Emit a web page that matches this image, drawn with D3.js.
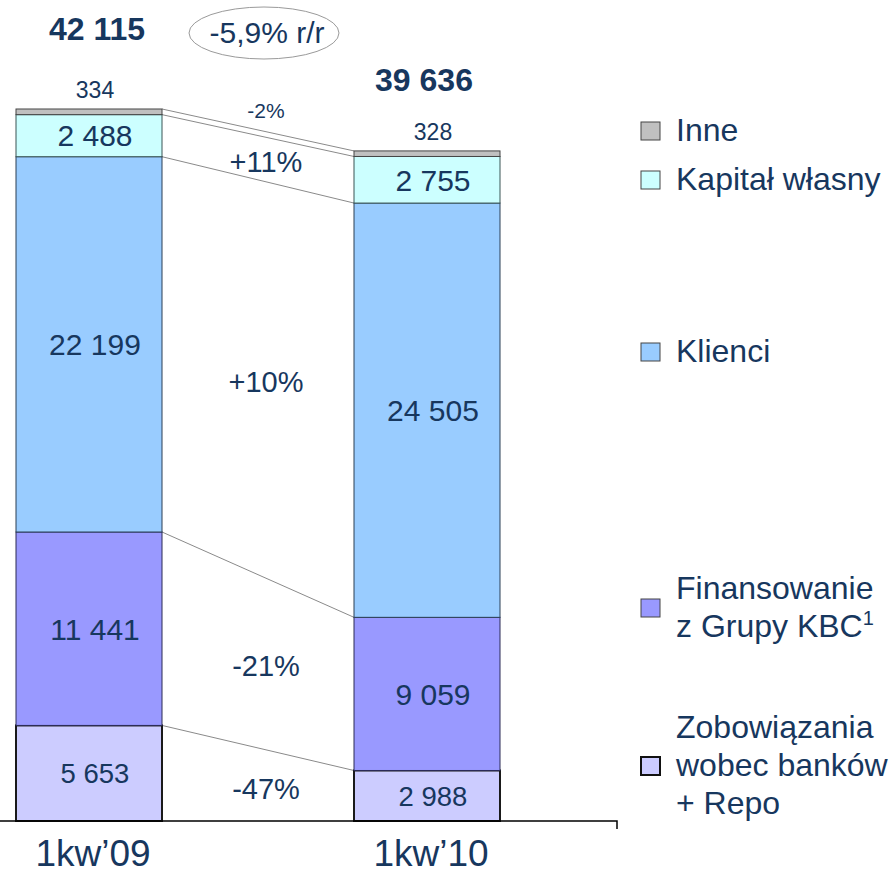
<!DOCTYPE html>
<html>
<head>
<meta charset="utf-8">
<script src="https://cdn.jsdelivr.net/npm/d3@7"></script>
<style>
  body { margin: 0; background: #fff; }
  text { font-family: "Liberation Sans", Arial, sans-serif; fill: #17375e; }
</style>
</head>
<body>
<svg id="chart" width="894" height="873"></svg>
<script>
// data
var periods = ["1kw\u201909", "1kw\u201910"];
var seriesKeys = ["zobow", "finans", "klienci", "kapital", "inne"];
var seriesNames = [["Zobowi\u0105zania", "wobec bank\u00f3w", "+ Repo"], ["Finansowanie", "z Grupy KBC"], ["Klienci"], ["Kapita\u0142 w\u0142asny"], ["Inne"]];
var zobow = [5653, 2988];
var finans = [11441, 9059];
var klienci = [22199, 24505];
var kapital = [2488, 2755];
var inne = [334, 328];
var totals = [42115, 39636];
var changes = ["-47%", "-21%", "+10%", "+11%", "-2%"];
var yoy = "-5,9% r/r";

var fills = ["#ccccff", "#9999ff", "#99ccff", "#ccffff", "#c0c0c0"];
var strokes = ["#1a1a1a", "#2a2a55", "#2a3f55", "#3a5555", "#444"];

var table = periods.map(function(p, i) {
  return { period: p, zobow: zobow[i], finans: finans[i], klienci: klienci[i], kapital: kapital[i], inne: inne[i] };
});

var svg = d3.select("#chart");
var baseY = 821;

var y = d3.scaleLinear().domain([0, totals[0]]).range([baseY, 109]);
var x = d3.scalePoint().domain(periods).range([89, 427]);
var barW = 146;

var stacked = d3.stack().keys(seriesKeys)(table);

// connector lines between bars (top edge of each segment)
stacked.forEach(function(s) {
  svg.append("line")
    .attr("x1", x(periods[0]) + barW / 2).attr("y1", y(s[0][1]))
    .attr("x2", x(periods[1]) - barW / 2).attr("y2", y(s[1][1]))
    .attr("stroke", "#8a8a8a").attr("stroke-width", 1);
});

// bars
var layer = svg.selectAll(".layer")
  .data(stacked)
  .enter().append("g")
  .attr("class", "layer");

layer.selectAll("rect")
  .data(function(d) { return d.map(function(v) { return { v: v, i: d.index }; }); })
  .enter().append("rect")
  .attr("x", function(d) { return x(d.v.data.period) - barW / 2; })
  .attr("y", function(d) { return y(d.v[1]); })
  .attr("width", barW)
  .attr("height", function(d) { return y(d.v[0]) - y(d.v[1]); })
  .attr("fill", function(d) { return fills[d.i]; })
  .attr("stroke", function(d) { return strokes[d.i]; })
  .attr("stroke-width", function(d) { return d.i === 0 ? 2 : 1; });

var fmt = function(v) { return d3.format(",")(v).replace(/,/g, " "); };

// segment values
layer.filter(function(d) { return d.key !== "inne"; })
  .selectAll("text")
  .data(function(d) { return d.map(function(v) { return { v: v, i: d.index }; }); })
  .enter().append("text")
  .attr("x", function(d) { return x(d.v.data.period) + 6; })
  .attr("y", function(d) { return (y(d.v[0]) + y(d.v[1])) / 2; })
  .attr("dy", "0.36em")
  .attr("text-anchor", "middle")
  .attr("font-size", function(d) { return d.i === 0 ? "27.5px" : "30px"; })
  .text(function(d) { return fmt(d.v[1] - d.v[0]); });

// "inne" values and totals above the bars
periods.forEach(function(p, i) {
  svg.append("text")
    .attr("x", x(p) + 6).attr("y", y(totals[i]) - 11)
    .attr("text-anchor", "middle").attr("font-size", "23px")
    .text(fmt(inne[i]));
  svg.append("text")
    .attr("x", x(p) + (i === 0 ? 8 : -3))
    .attr("y", i === 0 ? 40 : y(totals[i]) - 60)
    .attr("text-anchor", "middle").attr("font-size", "32px").attr("font-weight", "bold")
    .text(fmt(totals[i]));
});

// change labels between bars
var midX = (x(periods[0]) + x(periods[1])) / 2 + 8;
stacked.forEach(function(s, k) {
  var m0 = (y(s[0][0]) + y(s[0][1])) / 2, m1 = (y(s[1][0]) + y(s[1][1])) / 2;
  var isTop = s.key === "inne";
  svg.append("text")
    .attr("x", midX)
    .attr("y", isTop ? (y(s[0][1]) + y(s[1][1])) / 2 - 20 : (m0 + m1) / 2 + 4)
    .attr("dy", "0.36em")
    .attr("text-anchor", "middle")
    .attr("font-size", isTop ? "21px" : "29px")
    .text(changes[k]);
});

// y/y ellipse
svg.append("ellipse")
  .attr("cx", 264).attr("cy", 33).attr("rx", 75).attr("ry", 26)
  .attr("fill", "none").attr("stroke", "#9a9a9a").attr("stroke-width", 1);
svg.append("text")
  .attr("x", 267).attr("y", 43).attr("text-anchor", "middle").attr("font-size", "30px")
  .text(yoy);

// baseline axis
svg.append("path")
  .attr("d", "M0," + baseY + "H617V" + (baseY + 8))
  .attr("fill", "none").attr("stroke", "#000").attr("stroke-width", 1.5);

svg.selectAll(".xlab")
  .data(periods)
  .enter().append("text")
  .attr("class", "xlab")
  .attr("x", function(d) { return x(d) + 4; })
  .attr("y", 866)
  .attr("text-anchor", "middle")
  .attr("font-size", "37px")
  .text(function(d) { return d; });

// legend
var legendY = [766, 608, 352, 180, 131];
var legend = svg.selectAll(".legend")
  .data(seriesKeys)
  .enter().append("g")
  .attr("class", "legend")
  .attr("transform", function(d, i) { return "translate(641," + legendY[i] + ")"; });

legend.append("rect")
  .attr("x", 0).attr("y", -9).attr("width", 19).attr("height", 18)
  .attr("fill", function(d, i) { return fills[i]; })
  .attr("stroke", function(d, i) { return i === 0 ? "#111" : "#444"; })
  .attr("stroke-width", function(d, i) { return i === 0 ? 2 : 1; });

legend.each(function(d, i) {
  var lines = seriesNames[i];
  var n = lines.length;
  var t = d3.select(this).append("text")
    .attr("x", 35).attr("y", 0).attr("font-size", "32px");
  lines.forEach(function(l, j) {
    t.append("tspan")
      .attr("x", 35)
      .attr("y", (j - (n - 1) / 2) * 38 + 10)
      .text(l);
  });
  if (d === "finans") {
    t.select("tspan:last-child").append("tspan")
      .attr("font-size", "20px").attr("dy", "-12").text("1");
  }
});
</script>
</body>
</html>
